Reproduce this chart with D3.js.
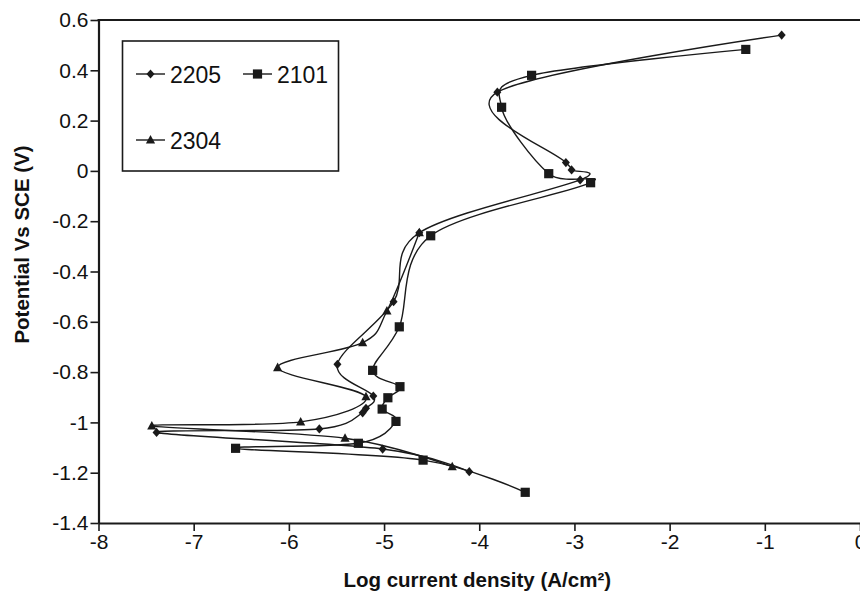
<!DOCTYPE html>
<html>
<head>
<meta charset="utf-8">
<script src="https://cdn.jsdelivr.net/npm/d3@7"></script>
<style>
  html, body { margin: 0; padding: 0; background: #fff; }
  svg { display: block; }
  text { font-family: "Liberation Sans", Arial, sans-serif; fill: #111; }
</style>
</head>
<body>
<svg id="chart" width="860" height="592"></svg>
<script>
// ---- Data (log current density, potential V vs SCE), in scan order ----
const series2205X = [-4.105, -5.015, -7.39, -5.68, -5.225, -5.19, -5.113, -5.49, -4.90, -4.63, -2.94, -3.03, -3.09, -3.81, -0.823];
const series2205Y = [-1.196, -1.106, -1.040, -1.026, -0.962, -0.944, -0.895, -0.769, -0.520, -0.246, -0.036, 0.004, 0.033, 0.313, 0.540];

const series2101X = [-3.517, -4.59, -6.56, -5.27, -4.875, -5.02, -4.96, -4.833, -5.12, -4.84, -4.51, -2.83, -3.27, -3.765, -3.45, -1.20];
const series2101Y = [-1.278, -1.150, -1.103, -1.083, -0.996, -0.947, -0.902, -0.858, -0.793, -0.620, -0.258, -0.047, -0.011, 0.253, 0.380, 0.483];

const series2304X = [-4.284, -5.41, -7.44, -5.876, -5.19, -6.118, -5.225, -4.97, -4.63];
const series2304Y = [-1.176, -1.063, -1.014, -0.998, -0.898, -0.782, -0.683, -0.557, -0.246];

const seriesNames = ["2205", "2101", "2304"];
const xTicks = [-8, -7, -6, -5, -4, -3, -2, -1, 0];
const yTicks = [0.6, 0.4, 0.2, 0, -0.2, -0.4, -0.6, -0.8, -1, -1.2, -1.4];
const yTickLabels = ["0.6", "0.4", "0.2", "0", "-0.2", "-0.4", "-0.6", "-0.8", "-1", "-1.2", "-1.4"];
const xTitle = "Log current density (A/cm²)";
const yTitle = "Potential Vs SCE (V)";

// ---- Layout ----
const svg = d3.select("#chart");
const L = 98.5, R = 860, T = 20, B = 523;
const x = d3.scaleLinear().domain([-8, 0]).range([L, R]);
const y = d3.scaleLinear().domain([-1.4, 0.6]).range([B, T]);
const ink = "#1a1a1a";
const fontFam = "Liberation Sans, Arial, sans-serif";

// marker shapes
function markerPath(type) {
  const p = d3.path();
  if (type === "diamond") {
    p.moveTo(0, -4.6); p.lineTo(4, 0); p.lineTo(0, 4.6); p.lineTo(-4, 0); p.closePath();
  } else if (type === "square") {
    p.rect(-4.6, -4.6, 9.2, 9.2);
  } else {
    p.moveTo(0, -5); p.lineTo(4.6, 3.6); p.lineTo(-4.6, 3.6); p.closePath();
  }
  return p.toString();
}

const seriesList = [
  { name: seriesNames[0], xs: series2205X, ys: series2205Y, marker: "diamond" },
  { name: seriesNames[1], xs: series2101X, ys: series2101Y, marker: "square" },
  { name: seriesNames[2], xs: series2304X, ys: series2304Y, marker: "triangle" }
];

// ---- Axes ----
const xAxis = d3.axisBottom(x).tickValues(xTicks).tickSize(8).tickSizeOuter(0).tickPadding(3)
  .tickFormat(d => String(d));
const gx = svg.append("g").attr("transform", `translate(0,${B})`).call(xAxis);
gx.select(".domain").attr("stroke", ink).attr("stroke-width", 2.2);
gx.selectAll(".tick line").attr("stroke", ink).attr("stroke-width", 1.6);
gx.selectAll(".tick text").attr("font-size", 21).attr("font-family", fontFam).attr("fill", "#111");

const yAxis = d3.axisLeft(y).tickValues(yTicks).tickSize(8).tickSizeOuter(0).tickPadding(2)
  .tickFormat((d, i) => yTickLabels[i]);
const gy = svg.append("g").attr("transform", `translate(${L},0)`).call(yAxis);
gy.select(".domain").attr("stroke", ink).attr("stroke-width", 2.2);
gy.selectAll(".tick line").attr("stroke", ink).attr("stroke-width", 1.6);
gy.selectAll(".tick text").attr("font-size", 21).attr("font-family", fontFam).attr("fill", "#111");

// top border of plot area
svg.append("line").attr("x1", L - 1).attr("x2", R).attr("y1", T).attr("y2", T)
  .attr("stroke", ink).attr("stroke-width", 2.2);

// ---- Series ----
const line = d3.line().x(d => x(d[0])).y(d => y(d[1])).curve(d3.curveCardinal.tension(0));
seriesList.forEach(s => {
  const pts = s.xs.map((v, i) => [v, s.ys[i]]);
  svg.append("path").datum(pts).attr("d", line)
    .attr("fill", "none").attr("stroke", ink).attr("stroke-width", 1.4);
  svg.append("g").selectAll("path").data(pts).join("path")
    .attr("d", markerPath(s.marker))
    .attr("transform", d => `translate(${x(d[0])},${y(d[1])})`)
    .attr("fill", ink);
});

// ---- Legend ----
const lg = svg.append("g");
lg.append("rect").attr("x", 122.5).attr("y", 41).attr("width", 216).attr("height", 130)
  .attr("fill", "#fff").attr("stroke", ink).attr("stroke-width", 1.6);
const legendPos = [[136, 74], [243, 74], [136, 140]];
seriesList.forEach((s, i) => {
  const [lx, ly] = legendPos[i];
  lg.append("line").attr("x1", lx).attr("x2", lx + 29).attr("y1", ly).attr("y2", ly)
    .attr("stroke", ink).attr("stroke-width", 1.4);
  lg.append("path").attr("d", markerPath(s.marker)).attr("transform", `translate(${lx + 14.5},${ly})`).attr("fill", ink);
  lg.append("text").attr("x", lx + 34).attr("y", ly + 8.5).attr("font-size", 23).text(s.name);
});

// ---- Titles ----
svg.append("text").attr("x", (L + R) / 2 - 2).attr("y", 587).attr("text-anchor", "middle")
  .attr("font-size", 20.5).attr("font-weight", "bold").text(xTitle);
svg.append("text").attr("transform", `translate(29,${(T + B) / 2 - 27}) rotate(-90)`)
  .attr("text-anchor", "middle").attr("font-size", 20.5).attr("font-weight", "bold").text(yTitle);
</script>
</body>
</html>
